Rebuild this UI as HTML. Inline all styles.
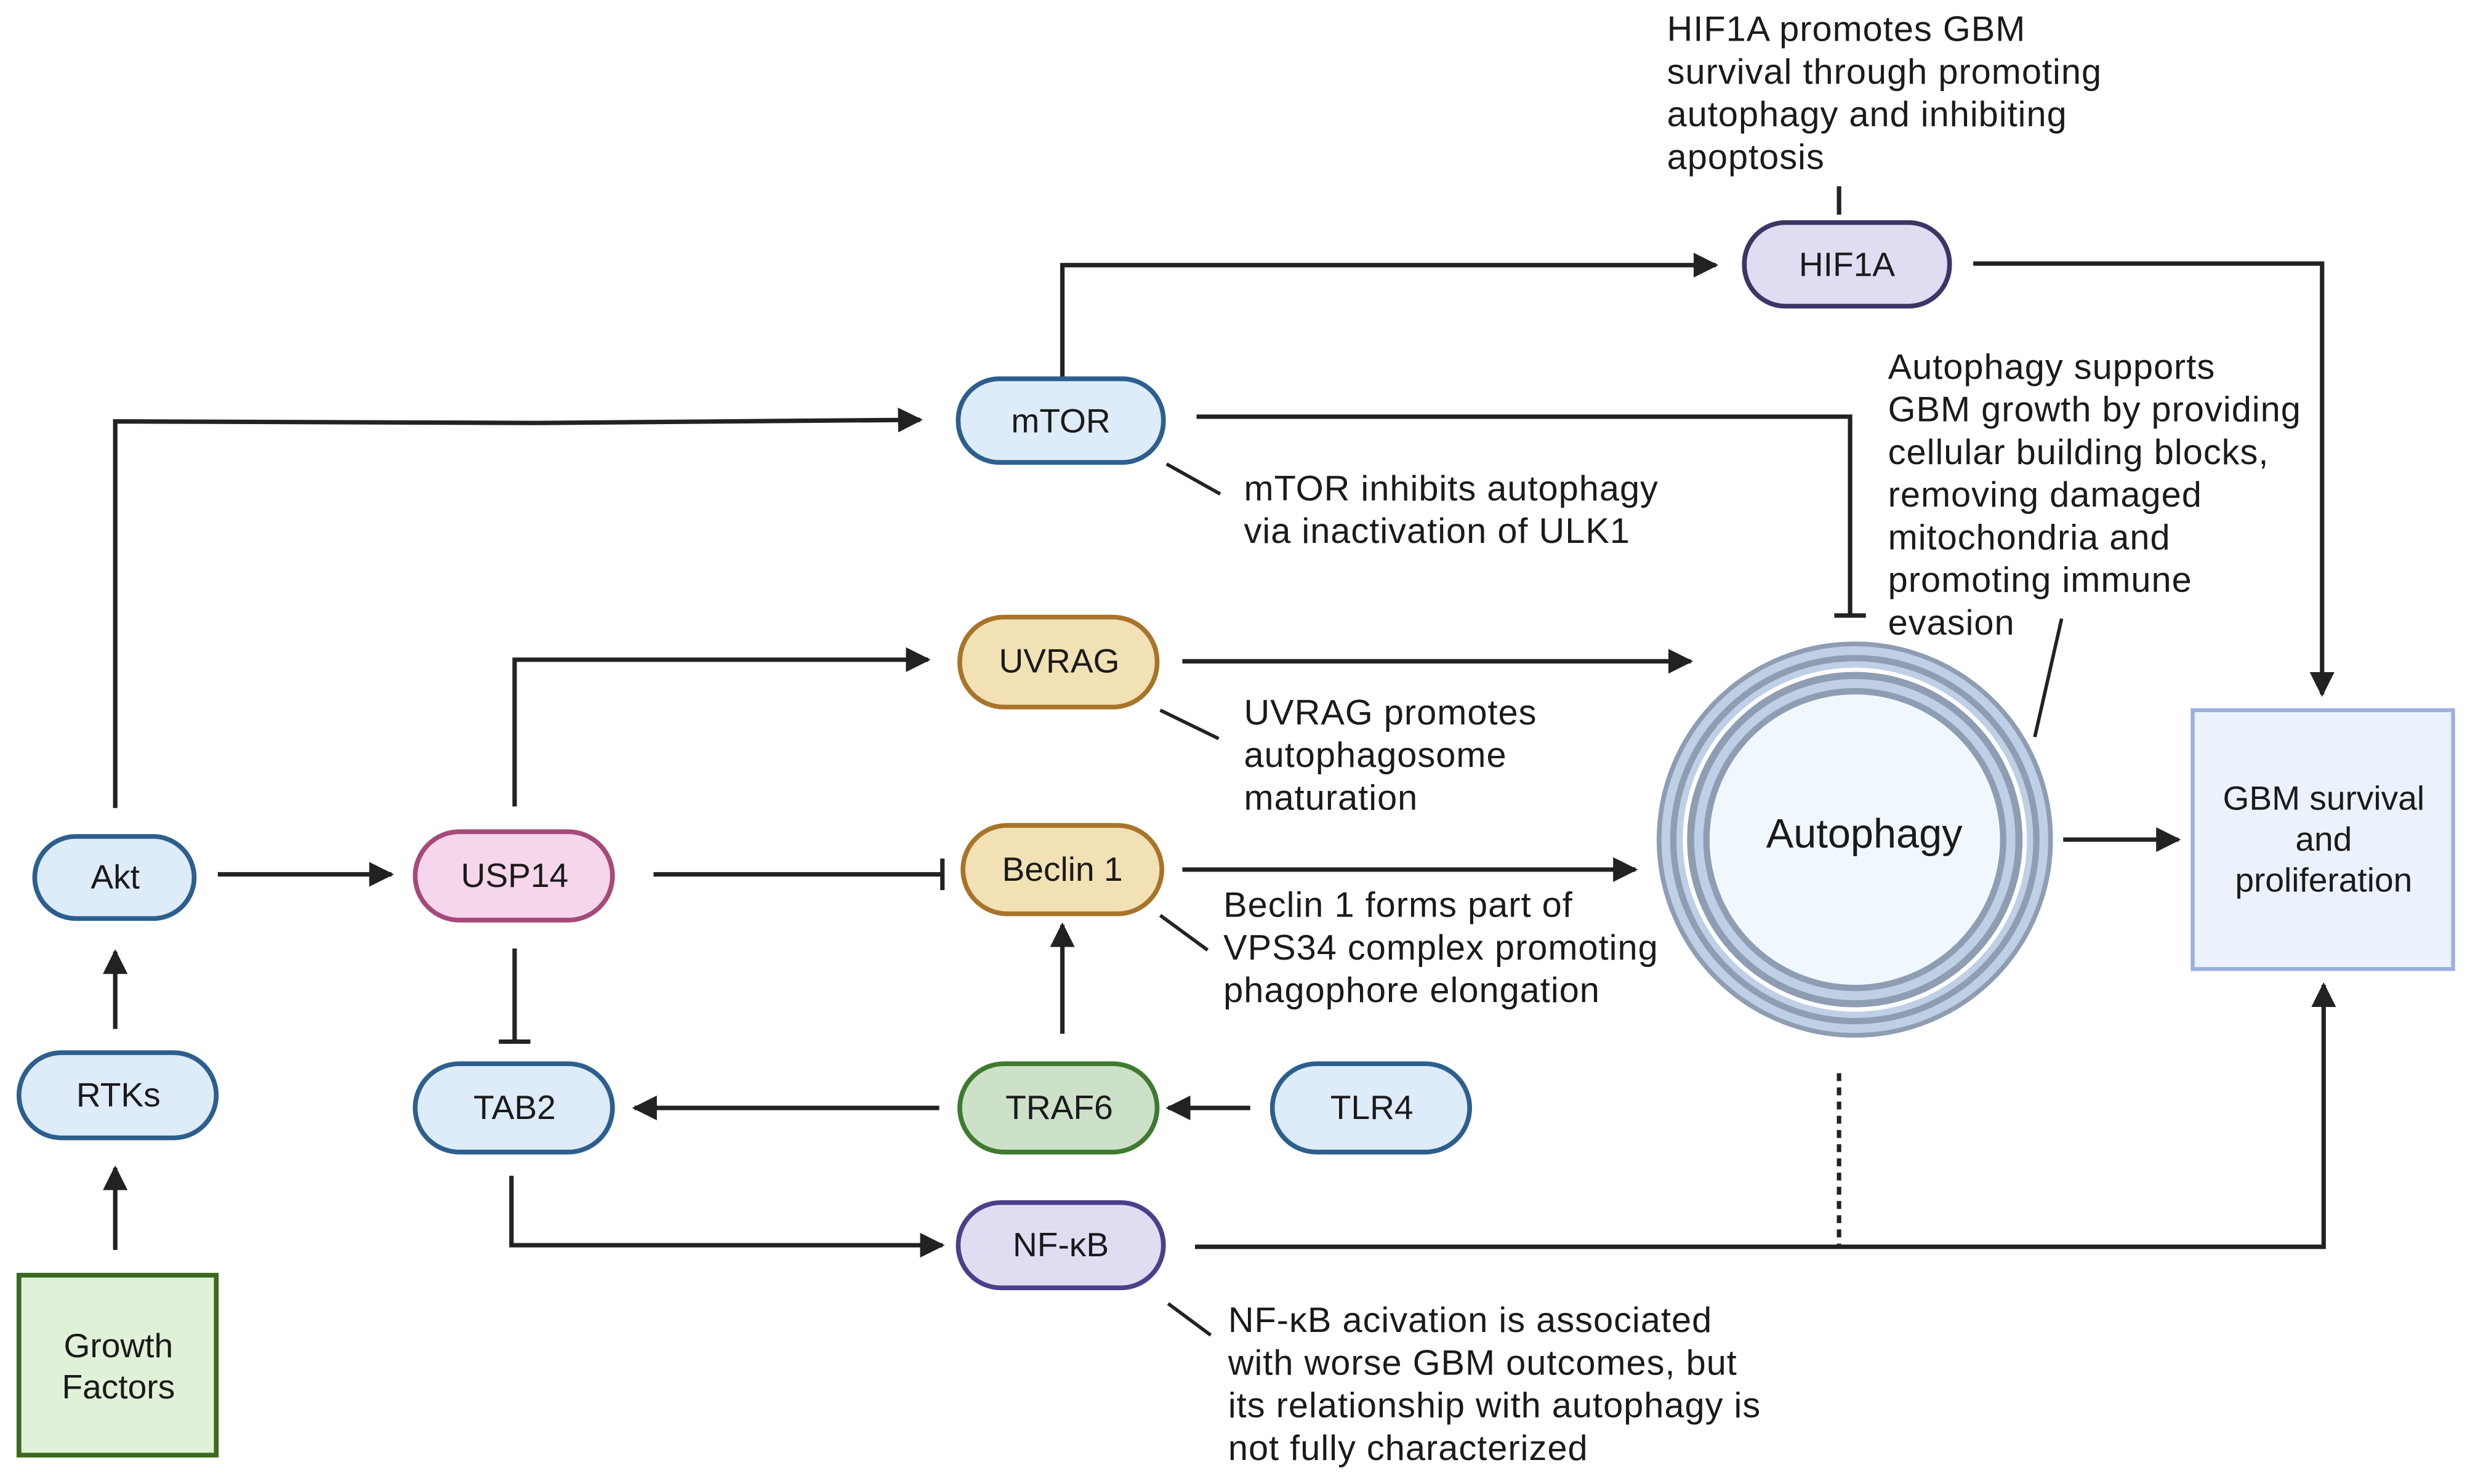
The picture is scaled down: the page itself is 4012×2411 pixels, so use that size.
<!DOCTYPE html>
<html><head><meta charset="utf-8"><style>
html,body{margin:0;padding:0;background:#fff;}
svg{display:block;}
text{font-family:"Liberation Sans",sans-serif;fill:#1a1a1a;}
</style></head><body>
<svg width="4012" height="2411" viewBox="0 0 1564.7 940.3" xmlns="http://www.w3.org/2000/svg">
<defs>
<marker id="a" viewBox="0 0 10 10" refX="9" refY="5" markerWidth="5.6" markerHeight="5.6" orient="auto" markerUnits="strokeWidth"><path d="M0,0 L10,5 L0,10 z" fill="#222"/></marker>
</defs>
<rect width="1564.7" height="940.3" fill="#fff"/>
<g fill="none" stroke="#222" stroke-width="2.8">
<polyline points="73,512 73,267 340,268 583,266" marker-end="url(#a)"/>
<line x1="138" y1="554" x2="248" y2="554" marker-end="url(#a)"/>
<line x1="73" y1="652" x2="73" y2="603" marker-end="url(#a)"/>
<line x1="73" y1="792" x2="73" y2="740" marker-end="url(#a)"/>
<polyline points="326,511 326,418 588,418" marker-end="url(#a)"/>
<line x1="414" y1="554" x2="597" y2="554"/><line x1="597" y1="544" x2="597" y2="564"/>
<line x1="326" y1="601" x2="326" y2="660"/><line x1="316" y1="660" x2="336" y2="660"/>
<polyline points="324,745 324,789 597,789" marker-end="url(#a)"/>
<line x1="595" y1="702" x2="402" y2="702" marker-end="url(#a)"/>
<line x1="792" y1="702" x2="740" y2="702" marker-end="url(#a)"/>
<line x1="673" y1="655" x2="673" y2="586" marker-end="url(#a)"/>
<polyline points="673,240 673,168 1087,168" marker-end="url(#a)"/>
<polyline points="758,264 1172,264 1172,390"/><line x1="1162" y1="390" x2="1182" y2="390"/>
<line x1="749" y1="419" x2="1071" y2="419" marker-end="url(#a)"/>
<line x1="749" y1="551" x2="1036" y2="551" marker-end="url(#a)"/>
<line x1="1307" y1="532" x2="1380" y2="532" marker-end="url(#a)"/>
<polyline points="1250,167 1471,167 1471,440" marker-end="url(#a)"/>
<polyline points="757,790 1472,790 1472,624" marker-end="url(#a)"/>
<line x1="1165" y1="680" x2="1165" y2="790" stroke-dasharray="5,4"/>
<line x1="1165" y1="118" x2="1165" y2="136"/>
<line x1="739" y1="294" x2="773" y2="313" stroke-width="2.2"/>
<line x1="735" y1="450" x2="772" y2="468" stroke-width="2.2"/>
<line x1="735" y1="580" x2="765" y2="602" stroke-width="2.2"/>
<line x1="740" y1="826" x2="767" y2="846" stroke-width="2.2"/>
<line x1="1306" y1="392" x2="1289" y2="467" stroke-width="2.2"/>
</g>
<g stroke-width="3">
<rect x="22" y="530" width="101" height="52" rx="26" fill="#deebf8" stroke="#2c5f8e"/>
<rect x="12" y="667" width="125" height="54" rx="27" fill="#deebf8" stroke="#2c5f8e"/>
<rect x="12" y="808" width="125" height="114" fill="#dff2d8" stroke="#3a6a1e"/>
<rect x="263" y="527" width="125" height="56" rx="28" fill="#f6d6ea" stroke="#a54a7a"/>
<rect x="263" y="674" width="125" height="56" rx="28" fill="#deebf8" stroke="#2c5f8e"/>
<rect x="607" y="240" width="130" height="53" rx="26" fill="#deebf8" stroke="#2c5f8e"/>
<rect x="608" y="391" width="125" height="57" rx="28" fill="#f1e1b5" stroke="#a8742a"/>
<rect x="610" y="523" width="126" height="56" rx="28" fill="#f1e1b5" stroke="#a8742a"/>
<rect x="608" y="674" width="125" height="56" rx="28" fill="#cde0c8" stroke="#3f7a30"/>
<rect x="806" y="674" width="125" height="56" rx="28" fill="#deebf8" stroke="#2c5f8e"/>
<rect x="607" y="762" width="130" height="54" rx="27" fill="#e2dcf3" stroke="#4b3f8a"/>
<rect x="1105" y="141" width="130" height="53" rx="26" fill="#e2dcf3" stroke="#3e3566"/>
<rect x="1389" y="450" width="165" height="164" fill="#ebf2fc" stroke="#9bb1de" stroke-width="2.5"/>
</g>
<g stroke="#8e9db2">
<circle cx="1175" cy="532" r="124" fill="#bfd0e6" stroke-width="3"/>
<circle cx="1175" cy="532" r="115" fill="#bfd0e6" stroke-width="4"/>
<circle cx="1175" cy="532" r="109" fill="#fff" stroke="none"/>
<circle cx="1175" cy="532" r="104" fill="#bfd0e6" stroke-width="4.5"/>
<circle cx="1175" cy="532" r="94" fill="#f0f8fe" stroke-width="4"/>
</g>
<g font-size="21.5" text-anchor="middle">
<text x="73" y="563">Akt</text>
<text x="75" y="701">RTKs</text>
<text x="75" y="860">Growth</text>
<text x="75" y="886">Factors</text>
<text x="326" y="562">USP14</text>
<text x="326" y="709">TAB2</text>
<text x="672" y="274">mTOR</text>
<text x="671" y="426">UVRAG</text>
<text x="673" y="558">Beclin 1</text>
<text x="671" y="709">TRAF6</text>
<text x="869" y="709">TLR4</text>
<text x="672" y="796">NF-κB</text>
<text x="1170" y="175">HIF1A</text>
<text x="1181" y="537" font-size="26">Autophagy</text>
<text x="1472" y="513">GBM survival</text>
<text x="1472" y="539">and</text>
<text x="1472" y="565">proliferation</text>
</g>
<g font-size="22.5" letter-spacing="0.4">
<text x="1056" y="26">HIF1A promotes GBM</text>
<text x="1056" y="53">survival through promoting</text>
<text x="1056" y="80">autophagy and inhibiting</text>
<text x="1056" y="107">apoptosis</text>
<text x="788" y="317">mTOR inhibits autophagy</text>
<text x="788" y="344">via inactivation of ULK1</text>
<text x="788" y="459">UVRAG promotes</text>
<text x="788" y="486">autophagosome</text>
<text x="788" y="513">maturation</text>
<text x="775" y="581">Beclin 1 forms part of</text>
<text x="775" y="608">VPS34 complex promoting</text>
<text x="775" y="635">phagophore elongation</text>
<text x="778" y="844">NF-κB acivation is associated</text>
<text x="778" y="871">with worse GBM outcomes, but</text>
<text x="778" y="898">its relationship with autophagy is</text>
<text x="778" y="925">not fully characterized</text>
<text x="1196" y="240">Autophagy supports</text>
<text x="1196" y="267">GBM growth by providing</text>
<text x="1196" y="294">cellular building blocks,</text>
<text x="1196" y="321">removing damaged</text>
<text x="1196" y="348">mitochondria and</text>
<text x="1196" y="375">promoting immune</text>
<text x="1196" y="402">evasion</text>
</g>
</svg>
</body></html>
